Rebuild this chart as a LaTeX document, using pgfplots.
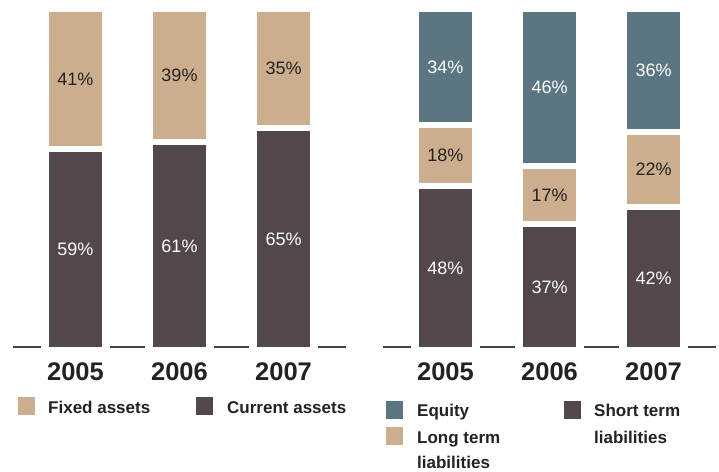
\documentclass[border=0pt]{standalone}
\usepackage{pgfplots}
\pgfplotsset{compat=1.18}
\usepackage{fontspec}
\setmainfont{Liberation Sans}

\definecolor{darkb}{HTML}{52474A}
\definecolor{tanc}{HTML}{CCAE8E}
\definecolor{eqblue}{HTML}{5B7581}
\definecolor{ink}{HTML}{222222}

\newcommand\pctfont{\fontsize{18bp}{20bp}\selectfont}
\newcommand\legfont{\fontsize{17bp}{19bp}\selectfont\bfseries}

% shared geometry of one panel
\pgfplotsset{
  panel/.style={scale only axis, width=333bp, height=341bp,
    xmin=-0.6, xmax=2.6, ymin=0, ymax=100, clip=false, anchor=south west,
    axis line style={draw=none}, major tick length=0, ytick=\empty},
  bars/.style={panel, ybar stacked, bar width=59bp,
    xtick={0,1,2}, xticklabels={2005,2006,2007},
    xticklabel style={anchor=base, yshift=-31bp, text=ink,
      font=\fontsize{25.5bp}{27bp}\selectfont\bfseries}},
  over/.style={panel, xtick=\empty},
  seg/.style={draw=white, line width=6bp},
  base/.style={color=ink!85, line width=1.5bp, mark=none},
  lab/.style={draw=none, mark=none, nodes near coords, point meta=explicit symbolic,
    every node near coord/.append style={anchor=center, font=\pctfont, text=#1}},
}

\begin{document}
\begin{tikzpicture}[x=1bp,y=1bp]
\path[use as bounding box] (0,0) rectangle (719,472);

% ---- left: assets
\begin{axis}[bars, at={(13bp,122bp)}]
\addplot[seg, fill=darkb] coordinates {(0,59)(1,61)(2,65)};
\addplot[seg, fill=tanc] coordinates {(0,41)(1,39)(2,35)};
\end{axis}
\begin{axis}[over, at={(13bp,122bp)}]
\addplot[base] coordinates {(-0.6,0.88)(-0.33,0.88)};
\addplot[base] coordinates {(0.33,0.88)(0.67,0.88)};
\addplot[base] coordinates {(1.33,0.88)(1.67,0.88)};
\addplot[base] coordinates {(2.33,0.88)(2.6,0.88)};
\addplot[lab=white] coordinates {(0,29.5)[59\%] (1,30.5)[61\%] (2,32.5)[65\%]};
\addplot[lab=ink] coordinates {(0,79.5)[41\%] (1,80.5)[39\%] (2,82.5)[35\%]};
\end{axis}

% ---- right: liabilities and equity
\begin{axis}[bars, at={(383bp,122bp)}]
\addplot[seg, fill=darkb] coordinates {(0,48)(1,37)(2,42)};
\addplot[seg, fill=tanc] coordinates {(0,18)(1,17)(2,22)};
\addplot[seg, fill=eqblue] coordinates {(0,34)(1,46)(2,36)};
\end{axis}
\begin{axis}[over, at={(383bp,122bp)}]
\addplot[base] coordinates {(-0.6,0.88)(-0.33,0.88)};
\addplot[base] coordinates {(0.33,0.88)(0.67,0.88)};
\addplot[base] coordinates {(1.33,0.88)(1.67,0.88)};
\addplot[base] coordinates {(2.33,0.88)(2.6,0.88)};
\addplot[lab=white] coordinates {(0,24)[48\%] (1,18.5)[37\%] (2,21)[42\%]};
\addplot[lab=ink] coordinates {(0,57)[18\%] (1,45.5)[17\%] (2,53)[22\%]};
\addplot[lab=white] coordinates {(0,83)[34\%] (1,77)[46\%] (2,82)[36\%]};
\end{axis}

% ---- legends
\fill[tanc] (18,57) rectangle (35,75);
\node[anchor=base west, inner sep=0, text=ink] at (48,58) {\legfont Fixed assets};
\fill[darkb] (196,57) rectangle (213,75);
\node[anchor=base west, inner sep=0, text=ink] at (227,58) {\legfont Current assets};

\fill[eqblue] (386,53) rectangle (403,71);
\node[anchor=base west, inner sep=0, text=ink] at (417,55) {\legfont Equity};
\fill[tanc] (386,27) rectangle (403,45);
\node[anchor=base west, inner sep=0, text=ink] at (417,28) {\legfont Long term};
\node[anchor=base west, inner sep=0, text=ink] at (417,3) {\legfont liabilities};
\fill[darkb] (564,53) rectangle (581,71);
\node[anchor=base west, inner sep=0, text=ink] at (594,55) {\legfont Short term};
\node[anchor=base west, inner sep=0, text=ink] at (594,28) {\legfont liabilities};
\end{tikzpicture}
\end{document}
